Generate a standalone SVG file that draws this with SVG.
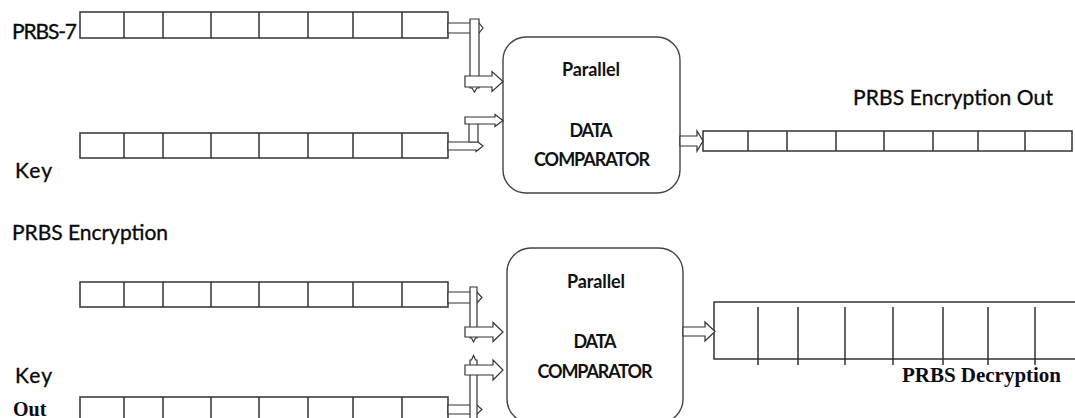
<svg xmlns="http://www.w3.org/2000/svg" width="1075" height="418" viewBox="0 0 1075 418">
  <style>
    .reg { fill: #fff; stroke: #333; stroke-width: 1.5; }
    .cell { stroke: #333; stroke-width: 1.5; fill: none; }
    .box { fill: #fff; stroke: #444; stroke-width: 1.4; }
    .pipe { fill: #fff; stroke: #333; stroke-width: 1.2; stroke-linejoin: miter; }
    .lbl { font-family: Lato, "Liberation Sans", sans-serif; font-weight: 700; fill: #111; }
    .big { font-size: 21px; font-weight: 400; fill: #0a0a0a; stroke: #0a0a0a; stroke-width: 0.35; }
    .mid { font-size: 18px; text-anchor: middle; }
    .ser { font-family: "Liberation Serif", "DejaVu Serif", serif; font-weight: 700; fill: #0b0b18; }
  </style>

  <rect width="1075" height="418" fill="#fff"/>

  <!-- ===== upper stage ===== -->
  <g id="prbs7-register">
    <rect class="reg" x="80" y="12" width="368" height="26"/>
    <path class="cell" d="M124 12V38M163 12V38M211 12V38M259 12V38M308 12V38M353 12V38M402 12V38"/>
    <text class="lbl big" x="12" y="39" textLength="65">PRBS-7</text>
  </g>

  <g id="key-register">
    <rect class="reg" x="80" y="133" width="368" height="25"/>
    <path class="cell" d="M124 133V158M163 133V158M211 133V158M259 133V158M308 133V158M353 133V158M402 133V158"/>
    <text class="lbl big" x="15" y="178" textLength="37">Key</text>
  </g>

  <g id="comparator-1">
    <rect class="box" x="503" y="37" width="177" height="156" rx="23" ry="23"/>
    <text class="lbl mid" x="591" y="76" textLength="58">Parallel</text>
    <text class="lbl mid" x="591" y="137" textLength="43">DATA</text>
    <text class="lbl mid" x="592" y="166" textLength="116">COMPARATOR</text>
  </g>

  <g id="encryption-out-register">
    <rect class="reg" x="703" y="131" width="369" height="20"/>
    <path class="cell" d="M748 131V151M787 131V151M836 131V151M884 131V151M933 131V151M978 131V151M1025 131V151"/>
    <text class="lbl big" x="853" y="105" textLength="200">PRBS Encryption Out</text>
  </g>

  <!-- ===== lower stage ===== -->
  <g id="encryption-register">
    <rect class="reg" x="80" y="282" width="368" height="25"/>
    <path class="cell" d="M124 282V307M163 282V307M211 282V307M259 282V307M308 282V307M353 282V307M402 282V307"/>
    <text class="lbl big" x="12" y="240" textLength="156">PRBS Encryption</text>
  </g>

  <g id="key-out-register">
    <rect class="reg" x="80" y="397" width="368" height="30"/>
    <path class="cell" d="M124 397V427M163 397V427M211 397V427M259 397V427M308 397V427M353 397V427M402 397V427"/>
    <text class="lbl big" x="15" y="383" textLength="37">Key</text>
    <text class="ser" x="13" y="416" font-size="20">Out</text>
  </g>

  <g id="comparator-2">
    <rect class="box" x="507" y="248" width="176" height="175" rx="24" ry="24"/>
    <text class="lbl mid" x="596" y="288" textLength="58">Parallel</text>
    <text class="lbl mid" x="595" y="348" textLength="43">DATA</text>
    <text class="lbl mid" x="595" y="378" textLength="115">COMPARATOR</text>
  </g>

  <g id="decryption-register">
    <rect class="reg" x="714" y="302" width="370" height="57"/>
    <path class="cell" d="M758 307V365M798 307V365M845 307V365M893 307V365M943 307V365M988 307V365M1035 307V365"/>
    <text class="ser" x="902" y="382" font-size="21" textLength="159">PRBS Decryption</text>
  </g>

  <!-- ===== parallel buses ===== -->
  <g id="connectors">
    <!-- PRBS-7 into comparator 1 -->
    <polygon class="pipe" points="448,23 479,23 483,28 479,33 448,33"/>
    <polygon class="pipe" points="470,19 479,19 479,88 477,88 474.5,92 472,88 470,88"/>
    <polygon class="pipe" points="465,76 492,76 492,71.5 503,81.5 492,91.5 492,87 465,87"/>

    <!-- Key into comparator 1 -->
    <polygon class="pipe" points="448,142 476,142 476,140.5 483,146 476,151.5 476,150 448,150"/>
    <polygon class="pipe" points="469,119 478,119 478,142 469,142"/>
    <polygon class="pipe" points="465,117 495,117 495,114.5 503,120.5 495,126.5 495,124 465,124"/>

    <!-- comparator 1 out -->
    <polygon class="pipe" points="680,136 697,136 697,131 703,141 697,151 697,146 680,146"/>

    <!-- PRBS Encryption into comparator 2 -->
    <polygon class="pipe" points="448,292 477,292 482,297.5 477,303 448,303"/>
    <polygon class="pipe" points="470,287 477,287 477,338 475.5,338 473.5,342 471.5,338 470,338"/>
    <polygon class="pipe" points="465,327 493,327 493,322.5 503,332 493,341.5 493,337 465,337"/>

    <!-- Key Out into comparator 2 -->
    <polygon class="pipe" points="448,405 477,405 482,409.5 477,414 448,414"/>
    <polygon class="pipe" points="470,425 470,360 471.5,360 473.5,355.5 475.5,360 477,360 477,425"/>
    <polygon class="pipe" points="465,365 493,365 493,360 503,370 493,380 493,375 465,375"/>

    <!-- comparator 2 out -->
    <polygon class="pipe" points="683,327 705,327 705,322 715,331.5 705,341 705,336 683,336"/>
  </g>
</svg>
